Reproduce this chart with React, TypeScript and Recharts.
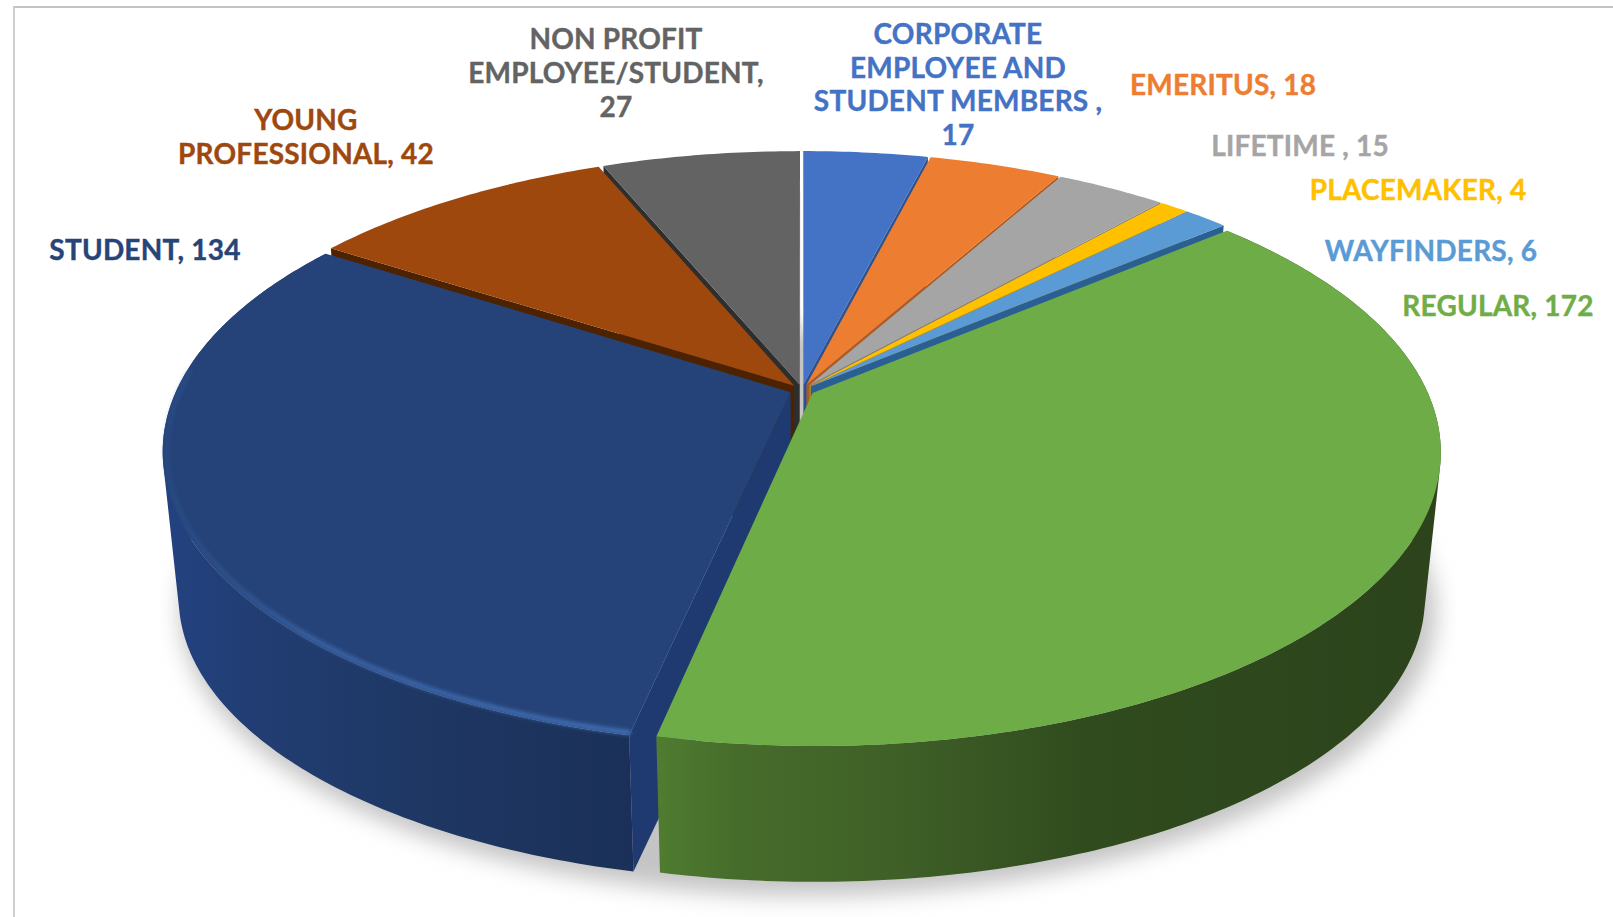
import React from "react";
import { PieChart, Pie } from "recharts";

// Data, clockwise from the front cut between REGULAR and STUDENT
const categories = ["STUDENT", "YOUNG PROFESSIONAL", "NON PROFIT EMPLOYEE/STUDENT", "CORPORATE EMPLOYEE AND STUDENT MEMBERS", "EMERITUS", "LIFETIME", "PLACEMAKER", "WAYFINDERS", "REGULAR"];
const values = [134, 42, 27, 17, 18, 15, 4, 6, 172];
const colors = ["#254378", "#9E480E", "#636363", "#4472C4", "#ED7D31", "#A5A5A5", "#FFC000", "#5B9BD5", "#6EAC47"];
const sideColors = ["#1E3A70", "#4D2200", "#2E2E2E", "#2F528F", "#AE5A21", "#7B7B7B", "#BC8C00", "#2A5F94", "#3E6028"];
const labelColors = ["#264478", "#9E480E", "#636363", "#4472C4", "#ED7D31", "#A5A5A5", "#FFC000", "#5B9BD5", "#70AD47"];
const sideLayer = [2, 1, 0, 1, 1, 1, 1, 1, 2];
const labelLines = [
  ["STUDENT, 134"],
  ["YOUNG", "PROFESSIONAL, 42"],
  ["NON PROFIT", "EMPLOYEE/STUDENT,", "27"],
  ["CORPORATE", "EMPLOYEE AND", "STUDENT MEMBERS ,", "17"],
  ["EMERITUS, 18"],
  ["LIFETIME , 15"],
  ["PLACEMAKER, 4"],
  ["WAYFINDERS, 6"],
  ["REGULAR, 172"],
];
const rows = categories.map((name, i) => ({ name, value: values[i] }));

// Text layout: centre x, first baseline y, line step
const labelAt = [
  [145, 260, 34], [306, 130, 34], [616, 49, 34], [958, 44, 33.5], [1223, 95, 34],
  [1300, 156, 34], [1418, 200, 34], [1431, 261, 34], [1498, 316, 34],
];

// Perspective view of the disc
const K = -0.1985;
const Y_RATIO = 0.4588;
const DEPTH = 0.241;
const BOTTOM_X = 0.975;
const BOTTOM_Y = 0.966;
const EXPLODE = 0.02;

const rad = (d: number) => (d * Math.PI) / 180;

function makeSlice(p: any) {
  const { cx, cy, outerRadius: R, startAngle, endAngle } = p;
  const a0 = 90 - startAngle;
  const a1 = 90 - endAngle;
  const mid = (a0 + a1) / 2;
  const ou = EXPLODE * Math.sin(rad(mid));
  const ov = -EXPLODE * Math.cos(rad(mid));
  const pt = (r: number, deg: number, bottom: boolean): [number, number] => {
    const u = ou + r * Math.sin(rad(deg));
    const v = ov - r * Math.cos(rad(deg));
    const w = 1 / (1 + K * v);
    let x = R * u * w;
    let y = R * Y_RATIO * v * w;
    if (bottom) {
      x *= BOTTOM_X;
      y = y * BOTTOM_Y + R * DEPTH;
    }
    return [cx + x, cy + y];
  };
  const n = Math.max(2, Math.ceil((a1 - a0) / 0.75));
  const degs = Array.from({ length: n + 1 }, (_, i) => a0 + ((a1 - a0) * i) / n);
  return { pt, degs, a0, a1 };
}

const toPath = (pts: [number, number][], close = true) =>
  "M" + pts.map((q) => q[0].toFixed(2) + "," + q[1].toFixed(2)).join("L") + (close ? "Z" : "");

const area = (pts: [number, number][]) => {
  let s = 0;
  pts.forEach((q, i) => {
    const r = pts[(i + 1) % pts.length];
    s += q[0] * r[1] - r[0] * q[1];
  });
  return s;
};

function Defs() {
  return (
    <defs>
      <filter id="soft" filterUnits="userSpaceOnUse" x="0" y="0" width="1613" height="917">
        <feGaussianBlur stdDeviation="2.2" />
      </filter>
      <filter id="shadow" filterUnits="userSpaceOnUse" x="0" y="0" width="1613" height="917">
        <feGaussianBlur stdDeviation="11" />
      </filter>
      <linearGradient id="wall-0" gradientUnits="userSpaceOnUse" x1="165" y1="0" x2="640" y2="0">
        <stop offset="0" stopColor="#234280" />
        <stop offset="0.2" stopColor="#213D72" />
        <stop offset="0.55" stopColor="#1E3763" />
        <stop offset="1" stopColor="#1A3058" />
      </linearGradient>
      <linearGradient id="wall-8" gradientUnits="userSpaceOnUse" x1="660" y1="0" x2="1440" y2="0">
        <stop offset="0" stopColor="#4F7C30" />
        <stop offset="0.1" stopColor="#466C2B" />
        <stop offset="0.3" stopColor="#3F6027" />
        <stop offset="0.55" stopColor="#304B1E" />
        <stop offset="1" stopColor="#2C431B" />
      </linearGradient>
      <linearGradient id="hl-0" gradientUnits="userSpaceOnUse" x1="165" y1="0" x2="640" y2="0">
        <stop offset="0" stopColor="#2F5596" stopOpacity="0.4" />
        <stop offset="0.3" stopColor="#3F6BB0" stopOpacity="0.95" />
        <stop offset="1" stopColor="#4A7CC8" />
      </linearGradient>
      <linearGradient id="hl-8" gradientUnits="userSpaceOnUse" x1="660" y1="0" x2="1440" y2="0">
        <stop offset="0" stopColor="#8FD062" />
        <stop offset="0.22" stopColor="#7DBA52" stopOpacity="0.7" />
        <stop offset="0.42" stopColor="#6EAC47" stopOpacity="0.2" />
        <stop offset="0.6" stopColor="#4A7430" stopOpacity="0.8" />
        <stop offset="1" stopColor="#4A7430" />
      </linearGradient>
    </defs>
  );
}

const makeSide = (layer: number) => (p: any) => {
  const s = makeSlice(p);
  const i = categories.indexOf(p.name);
  if (sideLayer[i] !== layer) return <g />;
  const face = (deg: number): [number, number][] => [s.pt(0, deg, false), s.pt(1, deg, false), s.pt(1, deg, true), s.pt(0, deg, true)];
  const startFace = face(s.a0);
  const endFace = face(s.a1);
  const hasWall = i === 0 || i === 8;
  // one quad per step, all wound the same way, so the wall's silhouette is closed
  const wall = hasWall
    ? s.degs.slice(1).map((d, k) => {
        const q: [number, number][] = [s.pt(1, s.degs[k], false), s.pt(1, d, false), s.pt(1, d, true), s.pt(1, s.degs[k], true)];
        return toPath(area(q) < 0 ? q.reverse() : q);
      }).join("")
    : "";
  return (
    <g>
      {area(startFace) < 0 && <path d={toPath(startFace)} fill={sideColors[i]} />}
      {area(endFace) > 0 && <path d={toPath(endFace)} fill={sideColors[i]} />}
      {hasWall && <path d={wall} fill={`url(#wall-${i})`} />}
    </g>
  );
};
const SideBack = makeSide(0);
const SideMiddle = makeSide(1);
const SideFront = makeSide(2);

function ShadowFirst(p: any) {
  const i = categories.indexOf(p.name);
  return (
    <g>
      {i === 0 && <Defs />}
      {i === 0 && <ellipse cx={808} cy={612} rx={628} ry={284} fill="#c4c4c4" filter="url(#shadow)" />}
      {SideBack(p)}
    </g>
  );
}

function TopShape(p: any) {
  const s = makeSlice(p);
  const i = categories.indexOf(p.name);
  const face: [number, number][] = [s.pt(0, s.a0, false), ...s.degs.map((d) => s.pt(1, d, false))];
  const glow = i === 0 || i === 8;
  return (
    <g>
      <path d={toPath(face)} fill={colors[i]} />
      {glow && (
        <path
          d={toPath(s.degs.filter((d) => d > 100 && d < 275).map((d) => s.pt(0.994, d, false)), false)}
          fill="none"
          stroke={`url(#hl-${i})`}
          strokeWidth={4}
          filter="url(#soft)"
        />
      )}
    </g>
  );
}

function SliceLabel(p: any) {
  const i = categories.indexOf(p.name);
  const [x, y, step] = labelAt[i];
  return (
    <text textAnchor="middle" fontFamily="Lato" fontWeight={700} fontSize={28} letterSpacing={0.2} fill={labelColors[i]} stroke={labelColors[i]} strokeWidth={0.4}>
      {labelLines[i].map((line, j) => (
        <tspan key={j} x={x} y={y + j * step}>{line}</tspan>
      ))}
    </text>
  );
}

export default function App() {
  const common = {
    data: rows,
    dataKey: "value",
    nameKey: "name",
    cx: 802,
    cy: 390,
    innerRadius: 0,
    outerRadius: 614,
    startAngle: -102,
    endAngle: -462,
    stroke: "none",
    isAnimationActive: false,
    labelLine: false,
  };
  return (
    <div style={{ position: "absolute", left: 0, top: 0, width: 1613, height: 917, overflow: "hidden", background: "#fff" }}>
      <div style={{ position: "absolute", left: 13, top: 6, width: 1600, height: 911, boxSizing: "border-box", borderLeft: "2px solid #cfcfcf", borderTop: "2px solid #c4c4c4" }} />
      <div style={{ position: "absolute", left: 0, top: 0 }}>
        <PieChart width={1613} height={917} margin={{ top: 0, right: 0, bottom: 0, left: 0 }}>
          <Pie {...common} shape={ShadowFirst} label={false} />
          <Pie {...common} shape={SideMiddle} label={false} />
          <Pie {...common} shape={SideFront} label={false} />
          <Pie {...common} shape={TopShape} label={SliceLabel} />
        </PieChart>
      </div>
    </div>
  );
}
